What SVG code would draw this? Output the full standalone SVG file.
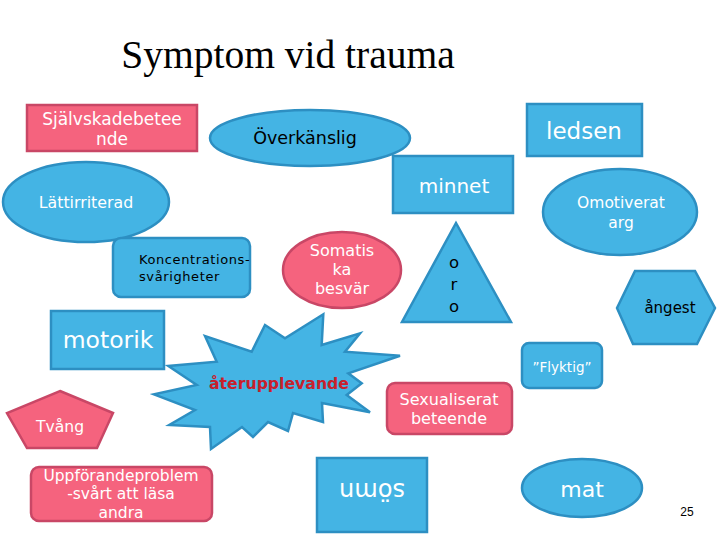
<svg xmlns="http://www.w3.org/2000/svg" width="720" height="540" viewBox="0 0 720 540">
<style>
.b{fill:#44B4E4;stroke:#2D8FC2;stroke-width:2.5}
.p{fill:#F5637E;stroke:#C94766;stroke-width:2.5}
text{font-family:"DejaVu Sans","Verdana",sans-serif;text-anchor:middle}
.w{fill:#FFFFFF}
.k{fill:#000000}
</style>
<rect width="720" height="540" fill="#FFFFFF"/>
<text x="288" y="68" style="font-family:'Liberation Serif','Times New Roman',serif;font-size:39.5px" fill="#000">Symptom vid trauma</text>
<g id="connectors"/>
<g id="sjalvskada">
<rect class="p" x="27" y="105" width="170" height="46"/>
<text class="w" x="112" y="125" font-size="17">Självskadebetee</text>
<text class="w" x="112" y="145" font-size="17">nde</text>
</g>
<g id="overkanslig">
<ellipse class="b" cx="310" cy="138" rx="100" ry="28"/>
<text class="k" x="305" y="144" font-size="17.5">Överkänslig</text>
</g>
<g id="ledsen">
<rect class="b" x="527" y="104" width="115" height="52"/>
<text class="w" x="584" y="139" font-size="23">ledsen</text>
</g>
<g id="minnet">
<rect class="b" x="393" y="156" width="120" height="57"/>
<text class="w" x="454" y="193" font-size="20">minnet</text>
</g>
<g id="lattirriterad">
<ellipse class="b" cx="86" cy="202" rx="83" ry="40"/>
<text class="w" x="86" y="208" font-size="15.8">Lättirriterad</text>
</g>
<g id="koncentration">
<rect class="b" x="113" y="238" width="137" height="59" rx="8"/>
<text class="k" x="139" y="264" font-size="13" letter-spacing="0.6" style="text-anchor:start">Koncentrations-</text>
<text class="k" x="139" y="281" font-size="13" letter-spacing="0.6" style="text-anchor:start">svårigheter</text>
</g>
<g id="somatiska">
<ellipse class="p" cx="342" cy="270" rx="59" ry="38"/>
<text class="w" x="342" y="256" font-size="16">Somatis</text>
<text class="w" x="342" y="275" font-size="16">ka</text>
<text class="w" x="342" y="294" font-size="16">besvär</text>
</g>
<g id="oro">
<polygon class="b" points="456,223 511,322 402,322"/>
<text class="k" x="454" y="268" font-size="16.5">o</text>
<text class="k" x="454" y="290" font-size="16.5">r</text>
<text class="k" x="454" y="312" font-size="16.5">o</text>
</g>
<g id="omotiverat">
<ellipse class="b" cx="620" cy="212" rx="77" ry="43"/>
<text class="w" x="621" y="208" font-size="15.5">Omotiverat</text>
<text class="w" x="621" y="228" font-size="15.5">arg</text>
</g>
<g id="angest">
<polygon class="b" points="635,271 695,271 715,308 697,344 633,344 617,308"/>
<text class="k" x="670" y="313" font-size="15">ångest</text>
</g>
<g id="motorik">
<rect class="b" x="51" y="311" width="113" height="58"/>
<text class="w" x="108" y="348" font-size="23.5">motorik</text>
</g>
<g id="aterupplevande">
<polygon class="b" points="205,336 216.7,361.7 168.3,366 196.7,385 154,394.3 195,410 169.3,425 210,427 211,449 242,427 253,437 268,422 288,431 293,413 323,422 322,403 370,412.3 346.7,395 361.7,383.3 348.3,373.3 400,355.7 345,351.7 360,333.3 321.7,345 323.3,314.3 285,338.3 265,325 251.7,351.7"/>
<text x="279" y="389" font-size="15.7" font-weight="bold" fill="#C8202C">återupplevande</text>
</g>
<g id="flyktig">
<rect class="b" x="522" y="343" width="80" height="45" rx="7"/>
<text class="w" x="562" y="372" font-size="13.5">”Flyktig”</text>
</g>
<g id="sexualiserat">
<rect class="p" x="387" y="383" width="125" height="51" rx="8"/>
<text class="w" x="449" y="405" font-size="16">Sexualiserat</text>
<text class="w" x="449" y="424" font-size="16">beteende</text>
</g>
<g id="tvang">
<polygon class="p" points="60,391 113,413 97,448 27,448 7,413"/>
<text class="w" x="60" y="432" font-size="15.6">Tvång</text>
</g>
<g id="uppforande">
<rect class="p" x="31" y="467" width="181" height="54" rx="8"/>
<text class="w" x="121" y="481" font-size="15.5">Uppförandeproblem</text>
<text class="w" x="121" y="499" font-size="15.5">-svårt att läsa</text>
<text class="w" x="121" y="518" font-size="15.5">andra</text>
</g>
<g id="somn">
<rect class="b" x="317" y="458" width="110" height="74"/>
<text class="w" x="372" y="497" font-size="24" transform="rotate(180 372 490)">sömn</text>
</g>
<g id="mat">
<ellipse class="b" cx="582" cy="488" rx="60" ry="29"/>
<text class="w" x="582" y="497" font-size="22">mat</text>
</g>
<text x="687" y="516" style="font-family:'Liberation Sans',Arial,sans-serif;font-size:12px" fill="#000">25</text>
</svg>
